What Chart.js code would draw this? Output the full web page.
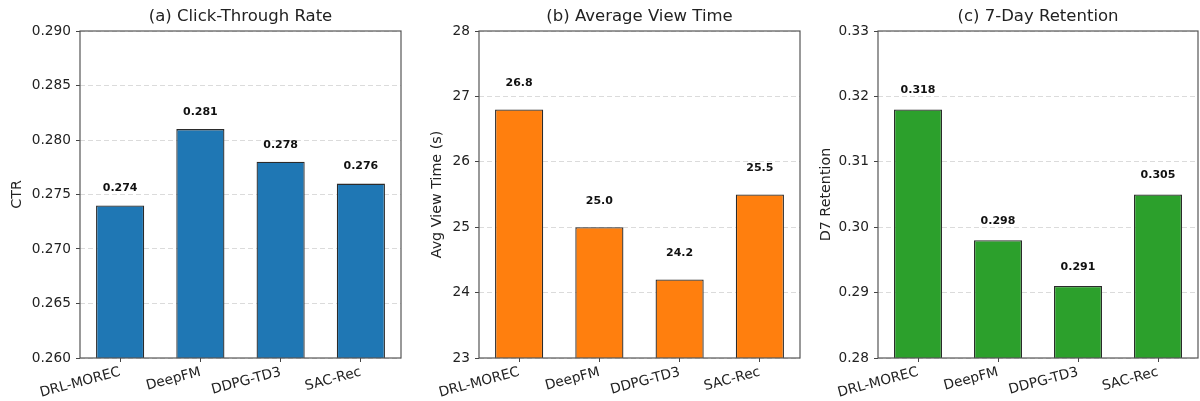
<!DOCTYPE html>
<html>
<head>
<meta charset="utf-8">
<script src="https://cdn.jsdelivr.net/npm/chart.js@4/dist/chart.umd.min.js"></script>
<style>
  html,body{margin:0;padding:0;background:#fff;}
  #wrap{position:relative;width:1200px;height:401px;overflow:hidden;}
  #wrap canvas{position:absolute;top:0;}
</style>
</head>
<body>
<div id="wrap">
  <canvas id="ch-a" width="410" height="401" style="left:0px"></canvas>
  <canvas id="ch-b" width="410" height="401" style="left:400px"></canvas>
  <canvas id="ch-c" width="400" height="401" style="left:800px"></canvas>
</div>
<script>
/* three-panel bar comparison */

const methods=['DRL-MOREC','DeepFM','DDPG-TD3','SAC-Rec'];
const ctrValues=[0.274,0.281,0.278,0.276];
const viewTimeValues=[26.8,25.0,24.2,25.5];
const retentionValues=[0.318,0.298,0.291,0.305];

const panelTitles=['(a) Click-Through Rate','(b) Average View Time','(c) 7-Day Retention'];
const axisTitles=['CTR','Avg View Time (s)','D7 Retention'];
const yMin=[0.26,23,0.28];
const yMax=[0.29,28,0.33];
const yStep=[0.005,1,0.01];
const tickDecimals=[3,0,2];
const labelDecimals=[3,1,3];

const FONT='"DejaVu Sans", sans-serif';

// decorations: title, y title, spines, value labels
const decor={
  id:'decor',
  afterDatasetsDraw(chart,args,o){
    const ctx=chart.ctx,a=chart.chartArea;
    ctx.save();
    // value labels
    const meta=chart.getDatasetMeta(0);
    ctx.font='bold 11px '+FONT;ctx.fillStyle='#111';ctx.textAlign='center';ctx.textBaseline='middle';
    meta.data.forEach((bar,i)=>{
      const v=chart.data.datasets[0].data[i];
      ctx.fillText(v.toFixed(o.dec),bar.x,bar.y-o.lblOff);
    });
    // spines
    ctx.strokeStyle='#555';ctx.lineWidth=1.2;
    ctx.strokeRect(a.left,a.top,a.right-a.left,a.bottom-a.top);
    // title
    ctx.font='16.5px '+FONT;ctx.fillStyle='#222';
    ctx.fillText(o.title,(a.left+a.right)/2,a.top-14);
    // y title
    ctx.font='14.3px '+FONT;
    ctx.translate(a.left-o.yGap,(a.top+a.bottom)/2);ctx.rotate(-Math.PI/2);
    ctx.fillText(o.ytitle,0,0);
    ctx.restore();
  }
};

function makePanel(id,i,values,color,yW,padR,yGap,lblOff){
  new Chart(document.getElementById(id),{
    type:'bar',
    data:{labels:methods,datasets:[{data:values,backgroundColor:color,borderColor:'#2b2b2b',borderWidth:1.3,
      borderSkipped:false,barPercentage:0.6,categoryPercentage:1.0}]},
    options:{
      responsive:false,animation:false,devicePixelRatio:1,
      layout:{padding:{top:31,right:padR,left:0,bottom:0}},
      plugins:{legend:{display:false},tooltip:{enabled:false},
        decor:{title:panelTitles[i],ytitle:axisTitles[i],dec:labelDecimals[i],yGap,lblOff}},
      scales:{
        x:{
          afterFit(s){s.height=43;},
          grid:{offset:false,drawOnChartArea:false,tickLength:4,color:'#444',tickColor:'#444'},
          border:{display:false},
          ticks:{minRotation:15,maxRotation:15,color:'#222',font:{family:FONT,size:13.7},padding:2}
        },
        y:{
          min:yMin[i],max:yMax[i],
          afterFit(s){s.width=yW;},
          grid:{color:'rgba(0,0,0,0.14)',tickLength:4,tickColor:'#444',tickBorderDash:[]},
          border:{display:false,dash:[5,3]},
          ticks:{stepSize:yStep[i],color:'#222',font:{family:FONT,size:13.7},padding:5,
            callback:v=>Number(v).toFixed(tickDecimals[i])}
        }
      }
    },
    plugins:[decor]
  });
}

makePanel('ch-a',0,ctrValues,'#1f77b4',80,9,63,17);
makePanel('ch-b',1,viewTimeValues,'#ff7f0e',79,10,42,26);
makePanel('ch-c',2,retentionValues,'#2ca02c',78,2,52,19);
</script>
</body>
</html>
